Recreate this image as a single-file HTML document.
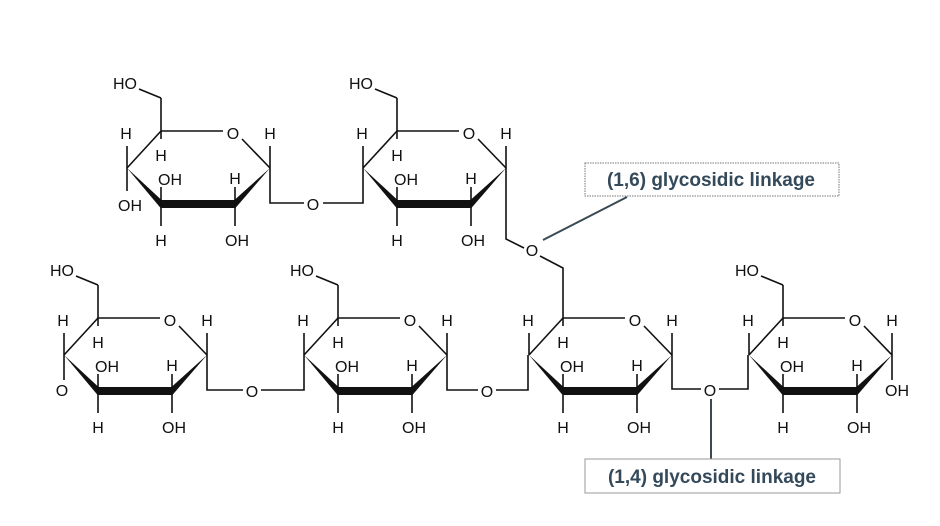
<!DOCTYPE html>
<html><head><meta charset="utf-8"><style>
html,body{margin:0;padding:0;background:#fff;}
svg{display:block;}
text{font-family:"Liberation Sans",Arial,sans-serif;font-size:16px;fill:#111;text-anchor:middle;}
.lab{font-family:"Liberation Sans",sans-serif;font-size:19px;font-weight:bold;fill:#34495a;}
line,polyline{stroke:#111;stroke-width:1.6;fill:none;}
</style></head><body>
<svg width="940" height="526" viewBox="0 0 940 526" xmlns="http://www.w3.org/2000/svg">
<defs>
<g id="ring">
<line x1="0" y1="0" x2="62" y2="0"/>
<line x1="81" y1="8" x2="109" y2="37"/>
<line x1="109" y1="15" x2="109" y2="37"/>
<polygon points="109,37 74,68.5 74,77.5" fill="#111"/>
<rect x="0" y="69" width="74" height="8" fill="#111"/>
<polygon points="-34,37 0,68.5 0,77.5" fill="#111"/>
<line x1="-34" y1="37" x2="0" y2="0"/>
<line x1="-34" y1="15" x2="-34" y2="37"/>
<line x1="0" y1="0" x2="0" y2="8"/>
<line x1="0" y1="56" x2="0" y2="73"/>
<line x1="0" y1="73" x2="0" y2="95"/>
<line x1="74" y1="56" x2="74" y2="73"/>
<line x1="74" y1="73" x2="74" y2="95"/>
<text x="72" y="8">O</text>
<text x="109" y="8">H</text>
<text x="-35" y="8">H</text>
<text x="0" y="30">H</text>
<text x="9" y="54">OH</text>
<text x="0" y="115">H</text>
<text x="74" y="53">H</text>
<text x="76" y="115">OH</text>
</g>
<g id="ch2">
<line x1="0" y1="0" x2="0" y2="-33"/>
<line x1="-22" y1="-42" x2="0" y2="-33"/>
<text x="-36" y="-42">HO</text>
</g>
</defs>
<g transform="translate(161,131)">
<use href="#ring"/><use href="#ch2"/>
<line x1="-34" y1="37" x2="-34" y2="60"/>
<text x="-31" y="80">OH</text>
<polyline points="109,37 109,72 143,72"/>
<text x="152" y="79">O</text>
</g>
<g transform="translate(397,131)">
<use href="#ring"/><use href="#ch2"/>
<polyline points="-34,37 -34,72 -74,72"/>
<polyline points="109,37 109,108 127,117"/>
<text x="135" y="125">O</text>
</g>
<g transform="translate(98,318)">
<use href="#ring"/><use href="#ch2"/>
<line x1="-34" y1="37" x2="-34" y2="62"/>
<text x="-36" y="78">O</text>
<polyline points="109,37 109,72 145,72"/>
<text x="154" y="79">O</text>
</g>
<g transform="translate(338,318)">
<use href="#ring"/><use href="#ch2"/>
<polyline points="-34,37 -34,72 -77,72"/>
<polyline points="109,37 109,72 140,72"/>
<text x="149" y="79">O</text>
</g>
<g transform="translate(563,318)">
<use href="#ring"/>
<polyline points="0,0 0,-50 -23,-62"/>
<polyline points="-35,37 -35,72 -67,72"/>
<polyline points="109,37 109,71 138,71"/>
<text x="147" y="78">O</text>
</g>
<g transform="translate(783,318)">
<use href="#ring"/><use href="#ch2"/>
<polyline points="-35,37 -35,71 -64,71"/>
<line x1="109" y1="37" x2="109" y2="62"/>
<text x="114" y="78">OH</text>
</g>
<line x1="543" y1="240" x2="627" y2="197" style="stroke:#3a4a55;stroke-width:2"/>
<line x1="711" y1="399" x2="711" y2="459" style="stroke:#3a4a55;stroke-width:2"/>
<rect x="585" y="163" width="254" height="33" fill="#fff" stroke="#777" stroke-width="1" stroke-dasharray="1.5,1"/>
<text class="lab" x="711" y="186">(1,6) glycosidic linkage</text>
<rect x="585" y="459" width="255" height="34" fill="#fff" stroke="#999" stroke-width="1"/>
<text class="lab" x="712" y="483">(1,4) glycosidic linkage</text>
</svg>
</body></html>
